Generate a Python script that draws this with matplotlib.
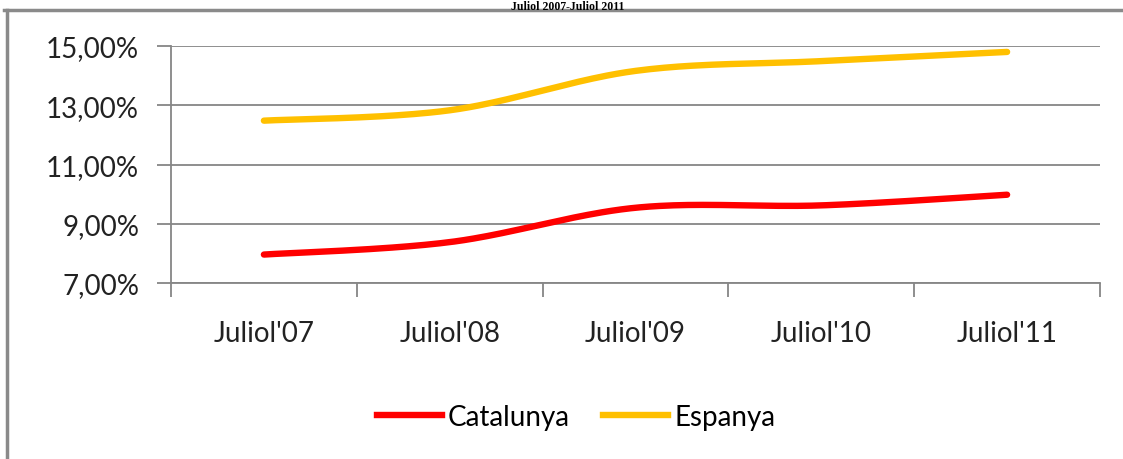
import matplotlib
matplotlib.use("Agg")
import matplotlib.pyplot as plt
from matplotlib.lines import Line2D
import numpy as np

# data
labels = ["Juliol'07", "Juliol'08", "Juliol'09", "Juliol'10", "Juliol'11"]
catalunya = [7.96, 8.38, 9.54, 9.62, 9.98]
espanya = [12.48, 12.83, 14.16, 14.49, 14.80]
title = "Juliol 2007-Juliol 2011"

plt.rcParams['font.family'] = ['Lato', 'DejaVu Sans']


def smooth(y, n=40):
    # Excel-style smoothed line: cubic Bezier through the points
    y = np.asarray(y, dtype=float)
    x = np.arange(len(y), dtype=float)
    xs, ys = [], []
    for i in range(len(y) - 1):
        p0 = np.array([x[max(i - 1, 0)], y[max(i - 1, 0)]])
        p1 = np.array([x[i], y[i]])
        p2 = np.array([x[i + 1], y[i + 1]])
        p3 = np.array([x[min(i + 2, len(y) - 1)], y[min(i + 2, len(y) - 1)]])
        c1 = p1 + (p2 - p0) / 6.0
        c2 = p2 - (p3 - p1) / 6.0
        t = np.linspace(0, 1, n)[:, None]
        b = ((1 - t) ** 3) * p1 + 3 * ((1 - t) ** 2) * t * c1 + 3 * (1 - t) * t ** 2 * c2 + t ** 3 * p2
        xs.append(b[:, 0])
        ys.append(b[:, 1])
    return np.concatenate(xs), np.concatenate(ys)


W, H = 1123, 460
fig = plt.figure(figsize=(W / 100, H / 100), dpi=100)
ax = fig.add_axes([171 / W, 1 - 284 / H, (1100 - 171) / W, (284 - 47) / H])

grey = '#868686'
lw = 4.6
fs = 20
xc, yc = smooth(catalunya)
xe, ye = smooth(espanya)
ax.plot(xc, yc, color='#FF0000', lw=lw, solid_capstyle='round', zorder=3)
ax.plot(xe, ye, color='#FFC000', lw=lw, solid_capstyle='round', zorder=3)

ax.set_xlim(-0.5, len(labels) - 0.5)
ax.set_ylim(7, 15)
ax.set_yticks([7, 9, 11, 13, 15])
ax.yaxis.set_major_formatter(matplotlib.ticker.FuncFormatter(
    lambda v, p: ('%.2f%%' % v).replace('.', ',')))
ax.set_xticks(np.arange(len(labels) + 1) - 0.5)
ax.set_xticklabels([])
ax.set_xticks(np.arange(len(labels)), minor=True)
ax.set_xticklabels(labels, minor=True)
ax.tick_params(axis='x', which='minor', length=0, pad=27, labelsize=fs, colors='#222222')
ax.tick_params(axis='x', which='major', length=10, width=1.3, color=grey)
ax.tick_params(axis='y', length=10, width=1.3, color=grey, labelsize=fs, labelcolor='#222222', pad=13)

ax.grid(axis='y', color=grey, lw=1.3)
ax.set_axisbelow(True)
for s in ['top', 'right']:
    ax.spines[s].set_visible(False)
for s in ['left', 'bottom']:
    ax.spines[s].set_color(grey)
    ax.spines[s].set_linewidth(1.3)

handles = [Line2D([], [], color='#FF0000', lw=lw),
           Line2D([], [], color='#FFC000', lw=lw)]
fig.legend(handles, ['Catalunya', 'Espanya'], loc='center',
           bbox_to_anchor=(576 / W, 1 - 418 / H), ncol=2, frameon=False,
           fontsize=fs, handlelength=2.35, handletextpad=0.2, columnspacing=1.2)

# outer frame of the chart (only top and left edges are visible)
fig.add_artist(Line2D([4 / W, 1], [1 - 11 / H, 1 - 11 / H], color='#8a8a8a', lw=2.5))
fig.add_artist(Line2D([6.5 / W, 6.5 / W], [0, 1 - 11 / H], color='#8a8a8a', lw=2.5))

fig.text(568 / W, 1 - 0.5 / H, title, ha='center', va='top',
         family='Liberation Serif', weight='bold', fontsize=8.5)

fig.savefig('out.png', dpi=100)
